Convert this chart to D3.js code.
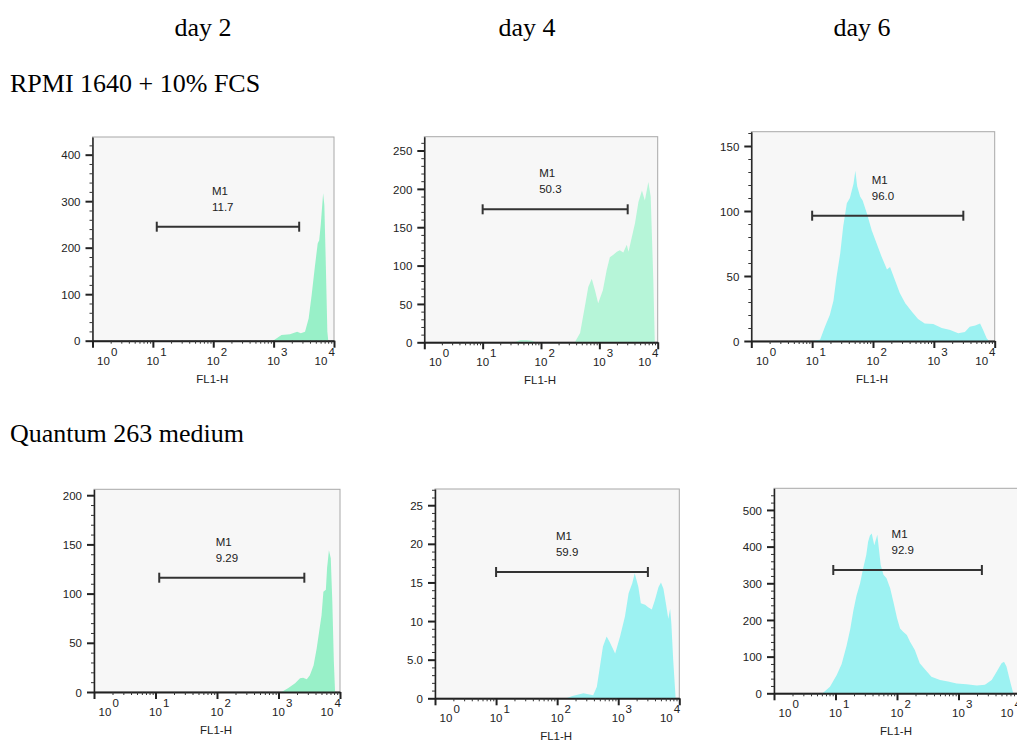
<!DOCTYPE html>
<html>
<head>
<meta charset="utf-8">
<script src="https://cdn.jsdelivr.net/npm/d3@7"></script>
<style>
  body { margin: 0; background: #fff; }
  svg { display: block; }
  .tk { font-family: "Liberation Sans", Arial, sans-serif; font-size: 11.5px; fill: #222; }
  .ttl { font-family: "Liberation Serif", "Times New Roman", serif; font-size: 26px; fill: #000; }
</style>
</head>
<body>
<svg id="chart" width="1017" height="747"></svg>
<script>
// column / row headings
const days = ["day 2", "day 4", "day 6"];
const media = ["RPMI 1640 + 10% FCS", "Quantum 263 medium"];

// per panel: top row left->right, then bottom row
const markerLabels = ["11.7", "50.3", "96.0", "9.29", "59.9", "92.9"];
const markerRanges = [[11.6, 2650], [10, 3060], [10, 3050], [11.5, 2630], [10, 3060], [9.2, 2400]];
const yMaxes = [438, 268, 161, 206, 27.1, 559];
const yMinorSteps = [20, 10, 10, 10, 1, 20];
const yTickLabels = [
    ["0", "100", "200", "300", "400"],
    ["0", "50", "100", "150", "200", "250"],
    ["0", "50", "100", "150"],
    ["0", "50", "100", "150", "200"],
    ["0", "5.0", "10", "15", "20", "25"],
    ["0", "100", "200", "300", "400", "500"]
];
const xDecades = [0, 1, 2, 3, 4];
const xTitle = "FL1-H";

// histograms: [log10 FL1-H, count]
const hist1 = [[2.99, 0], [3.13, 12], [3.27, 14], [3.39, 19], [3.45, 16], [3.52, 19], [3.58, 48], [3.63, 98],
    [3.68, 156], [3.73, 209], [3.755, 216], [3.78, 249], [3.82, 317], [3.84, 292], [3.866, 156], [3.89, 19], [3.905, 0]];
const hist2 = [[1.55, 0], [1.65, 3], [1.75, 3], [1.85, 2], [1.9, 0], [2.58, 0], [2.67, 12], [2.75, 46], [2.81, 72],
    [2.87, 83], [2.925, 68], [2.98, 51], [3.06, 68], [3.125, 94], [3.18, 111], [3.24, 114], [3.30, 118], [3.35, 120],
    [3.41, 117], [3.47, 127], [3.50, 118], [3.55, 135], [3.61, 155], [3.67, 183], [3.73, 198], [3.78, 185],
    [3.84, 209], [3.88, 190], [3.925, 81], [3.95, 0]];
const hist3 = [[0.97, 0], [1.13, 1], [1.21, 11], [1.29, 20], [1.35, 31], [1.40, 49], [1.46, 67], [1.51, 88],
    [1.57, 106], [1.62, 110], [1.68, 121], [1.71, 131], [1.74, 119], [1.79, 111], [1.83, 108], [1.90, 98],
    [1.98, 85], [2.06, 75], [2.14, 65], [2.23, 55], [2.28, 57], [2.36, 47], [2.44, 37], [2.53, 29], [2.64, 22.5],
    [2.74, 17], [2.85, 13.5], [2.99, 13], [3.13, 10], [3.27, 8.5], [3.40, 6], [3.51, 7], [3.59, 11], [3.68, 12],
    [3.76, 13.5], [3.81, 8.5], [3.87, 2], [3.91, 0]];
const hist4 = [[3.05, 0], [3.16, 4], [3.27, 9], [3.35, 14], [3.40, 14.5], [3.46, 13], [3.51, 17], [3.57, 27],
    [3.62, 44], [3.66, 61], [3.70, 78], [3.73, 102], [3.77, 104], [3.79, 126], [3.82, 144], [3.85, 136],
    [3.875, 92], [3.90, 31], [3.92, 0]];
const hist5 = [[2.15, 0], [2.25, 0.3], [2.43, 0.65], [2.59, 0.4], [2.65, 1.5], [2.70, 4.1], [2.75, 6.7], [2.81, 8.0],
    [2.86, 7.3], [2.95, 5.8], [3.03, 8.0], [3.11, 10.6], [3.17, 13.6], [3.23, 14.9], [3.27, 16.2], [3.33, 14.4],
    [3.37, 12.3], [3.44, 12.1], [3.49, 11.8], [3.55, 11.5], [3.60, 12.7], [3.66, 14.4], [3.70, 15.0], [3.74, 14.2],
    [3.78, 12.3], [3.82, 10.3], [3.85, 11.6], [3.87, 9.7], [3.90, 5.0], [3.94, 0]];
const hist6 = [[0.79, 0], [0.91, 18], [1.02, 50], [1.10, 80], [1.18, 130], [1.24, 175], [1.29, 225], [1.34, 265],
    [1.40, 300], [1.45, 341], [1.50, 377], [1.53, 413], [1.56, 430], [1.59, 436], [1.63, 404], [1.68, 432],
    [1.735, 350], [1.78, 323], [1.83, 314], [1.89, 286], [1.94, 250], [2.00, 205], [2.05, 177], [2.10, 168],
    [2.16, 159], [2.21, 141], [2.29, 118], [2.37, 82], [2.46, 64], [2.56, 45], [2.70, 36], [2.83, 32], [2.97, 27],
    [3.13, 25], [3.30, 21], [3.43, 23], [3.54, 36], [3.62, 59], [3.70, 82], [3.74, 86], [3.78, 73], [3.84, 32],
    [3.89, 0]];
const hists = [hist1, hist2, hist3, hist4, hist5, hist6];
const fills = ["#98f0c8", "#b6f5d8", "#9cf2f2", "#98f0c8", "#9cf2f2", "#9cf2f2"];

// pixel layout of each plot frame
const layout = [
    {x0: 92.5, x4: 334, top: 137, base: 340.7, my: 226.7},
    {x0: 424.3, x4: 657.7, top: 136.7, base: 342.3, my: 209.3},
    {x0: 751.3, x4: 994.7, top: 131.7, base: 341, my: 215.7},
    {x0: 94, x4: 340, top: 489.3, base: 692, my: 577.7},
    {x0: 435, x4: 679.3, top: 489, base: 698.3, my: 572},
    {x0: 774, x4: 1020, top: 488.3, base: 693.3, my: 570}
];

const svg = d3.select("#chart");

svg.selectAll("text.day").data(days).enter().append("text")
    .attr("class", "ttl day")
    .attr("x", (d, i) => [203, 527, 862][i])
    .attr("y", 36)
    .attr("text-anchor", "middle")
    .text(d => d);

svg.selectAll("text.med").data(media).enter().append("text")
    .attr("class", "ttl med")
    .attr("x", 10)
    .attr("y", (d, i) => [92, 442][i])
    .text(d => d);

layout.forEach(function (L, i) {
    const g = svg.append("g");
    const x = d3.scaleLog().domain([1, 1e4]).range([L.x0, L.x4]);
    const y = d3.scaleLinear().domain([0, yMaxes[i]]).range([L.base, L.top]);

    g.append("rect")
        .attr("x", L.x0).attr("y", L.top)
        .attr("width", L.x4 - L.x0).attr("height", L.base - L.top)
        .attr("fill", "#f7f7f7").attr("stroke", "#a8a8a8").attr("stroke-width", 1);

    g.append("path")
        .datum(hists[i])
        .attr("fill", fills[i])
        .attr("d", d3.area()
            .x(d => x(Math.pow(10, d[0])))
            .y0(y(0))
            .y1(d => y(d[1])));

    // marker M1
    const mr = markerRanges[i];
    const xa = x(mr[0]), xb = x(mr[1]);
    const mg = g.append("g").attr("stroke", "#333").attr("stroke-width", 2);
    mg.append("line").attr("x1", xa).attr("x2", xb).attr("y1", L.my).attr("y2", L.my);
    mg.append("line").attr("x1", xa).attr("x2", xa).attr("y1", L.my - 5).attr("y2", L.my + 5);
    mg.append("line").attr("x1", xb).attr("x2", xb).attr("y1", L.my - 5).attr("y2", L.my + 5);
    const mid = (xa + xb) / 2 - 16;
    g.append("text").attr("class", "tk").attr("x", mid).attr("y", L.my - 32).text("M1");
    g.append("text").attr("class", "tk").attr("x", mid).attr("y", L.my - 16).text(markerLabels[i]);

    // y axis: minor then major
    const majors = yTickLabels[i].map(Number);
    const minors = d3.range(0, yMaxes[i], yMinorSteps[i]).filter(v => !majors.some(m => Math.abs(m - v) < 1e-6));
    g.append("g")
        .attr("transform", "translate(" + L.x0 + ",0)")
        .call(d3.axisLeft(y).tickValues(minors).tickSize(3).tickSizeOuter(0).tickFormat(""))
        .call(a => a.select(".domain").attr("stroke", "#222").attr("stroke-width", 1.5))
        .call(a => a.selectAll(".tick line").attr("stroke", "#333"));
    g.append("g")
        .attr("transform", "translate(" + L.x0 + ",0)")
        .call(d3.axisLeft(y).tickValues(majors).tickSize(7).tickSizeOuter(0).tickPadding(5)
            .tickFormat((d, k) => yTickLabels[i][k]))
        .call(a => a.select(".domain").remove())
        .call(a => a.selectAll(".tick line").attr("stroke", "#222").attr("stroke-width", 2))
        .call(a => a.selectAll(".tick text").attr("class", "tk").attr("dy", "0.36em"));

    // x axis
    const xMinors = [];
    xDecades.slice(0, 4).forEach(dd => d3.range(2, 10).forEach(k => xMinors.push(k * Math.pow(10, dd))));
    g.append("g")
        .attr("transform", "translate(0," + L.base + ")")
        .call(d3.axisBottom(x).tickValues(xMinors).tickSize(3).tickSizeOuter(0).tickFormat(""))
        .call(a => a.select(".domain").attr("stroke", "#222").attr("stroke-width", 2))
        .call(a => a.selectAll(".tick line").attr("stroke", "#333"));
    g.append("g")
        .attr("transform", "translate(0," + L.base + ")")
        .call(d3.axisBottom(x).tickValues(xDecades.map(dd => Math.pow(10, dd))).tickSize(7).tickSizeOuter(0).tickFormat(""))
        .call(a => a.select(".domain").remove())
        .call(a => a.selectAll(".tick line").attr("stroke", "#222").attr("stroke-width", 2));

    xDecades.forEach(function (dd, k) {
        const off = k === 0 ? 11 : (k === 4 ? -13 : 0);
        const t = g.append("text").attr("class", "tk")
            .attr("x", x(Math.pow(10, dd)) - 6.4 + off)
            .attr("y", L.base + 24);
        t.append("tspan").text("10");
        t.append("tspan").attr("dx", 1).attr("dy", -9).text(dd);
    });

    g.append("text").attr("class", "tk")
        .attr("x", (L.x0 + L.x4) / 2 - 1)
        .attr("y", L.base + 42)
        .attr("font-size", "12px")
        .attr("text-anchor", "middle")
        .text(xTitle);
});
</script>
</body>
</html>
